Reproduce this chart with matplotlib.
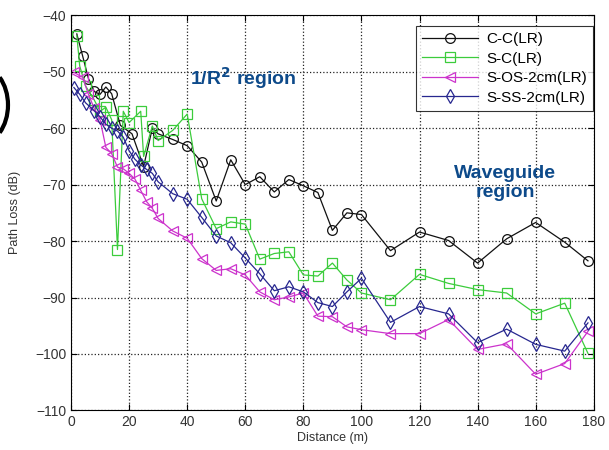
import matplotlib
matplotlib.use("Agg")
import matplotlib.pyplot as plt
from matplotlib.patches import Arc

plt.rcParams['font.family'] = ['Liberation Sans', 'DejaVu Sans']

# C-C(LR)
cc_x = [2, 4, 6, 8, 10, 12, 14, 17, 21, 25, 28, 30, 35, 40, 45, 50, 55, 60, 65, 70,
        75, 80, 85, 90, 95, 100, 110, 120, 130, 140, 150, 160, 170, 178]
cc_y = [-43.3, -47.2, -51.2, -53.5, -54.0, -52.7, -53.9, -59.5, -61.0, -66.8, -60.0,
        -61.0, -62.0, -63.1, -66.0, -72.9, -65.6, -70.0, -68.6, -71.3, -69.1, -70.2,
        -71.4, -78.1, -75.0, -75.3, -81.7, -78.4, -79.9, -83.9, -79.6, -76.7, -80.2, -83.5]

# S-C(LR)
sc_x = [2, 3, 5, 8, 10, 12, 14, 16, 18, 20, 24, 25, 28, 30, 35, 40, 45, 50, 55, 60,
        65, 70, 75, 80, 85, 90, 95, 100, 110, 120, 130, 140, 150, 160, 170, 178]
sc_y = [-43.6, -49.0, -52.5, -55.0, -57.0, -56.3, -58.5, -81.5, -57.0, -59.0, -57.0,
        -65.0, -59.6, -62.2, -60.4, -57.5, -72.5, -77.8, -76.6, -77.0, -83.2, -82.2,
        -81.9, -86.0, -86.2, -83.9, -86.9, -89.2, -90.4, -85.9, -87.5, -88.6, -89.2,
        -92.9, -91.0, -99.9]

# S-OS-2cm(LR)
sos_x = [1, 4, 6, 8, 10, 12, 14, 16, 18, 20, 22, 24, 26, 28, 30, 35, 40, 45, 50, 55,
         60, 65, 70, 75, 80, 85, 90, 95, 100, 110, 120, 130, 140, 150, 160, 170, 178]
sos_y = [-50.1, -51.0, -54.0, -56.5, -58.5, -63.4, -64.5, -66.9, -67.2, -68.0, -69.0,
         -71.0, -73.0, -74.2, -76.0, -78.2, -79.5, -83.1, -85.2, -84.9, -86.0, -89.0,
         -90.4, -89.9, -89.2, -93.3, -93.4, -95.2, -95.7, -96.4, -96.4, -93.9, -99.2,
         -98.2, -103.6, -101.7, -96.0]

# S-SS-2cm(LR)
sss_x = [1, 3, 5, 8, 10, 12, 14, 16, 18, 20, 22, 24, 26, 28, 30, 35, 40, 45, 50, 55,
         60, 65, 70, 75, 80, 85, 90, 95, 100, 110, 120, 130, 140, 150, 160, 170, 178]
sss_y = [-52.8, -54.0, -55.5, -56.9, -58.0, -59.3, -60.0, -60.5, -61.6, -64.0, -65.5,
         -66.5, -67.3, -68.0, -69.5, -71.6, -72.6, -75.8, -79.1, -80.3, -83.0, -85.8,
         -88.8, -88.1, -89.0, -90.9, -91.6, -89.0, -86.6, -94.4, -91.6, -92.9, -98.0,
         -95.6, -98.3, -99.5, -94.5]

x_ticks = [0, 20, 40, 60, 80, 100, 120, 140, 160, 180]
y_ticks = [-110, -100, -90, -80, -70, -60, -50, -40]

fig = plt.figure(figsize=(6.09, 4.5), dpi=100)
ax = fig.add_axes([0.1166, 0.088, 0.8584, 0.878])

kw = dict(markerfacecolor='none', markersize=7, linewidth=0.9, markeredgewidth=0.9)
ax.plot(cc_x, cc_y, '-o', color='#111111', label='C-C(LR)', **kw)
ax.plot(sc_x, sc_y, '-s', color='#3ccc3c', label='S-C(LR)', **kw)
ax.plot(sos_x, sos_y, '-<', color='#cc33cc', label='S-OS-2cm(LR)', **kw)
ax.plot(sss_x, sss_y, '-d', color='#27278f', label='S-SS-2cm(LR)', **kw)

ax.set_xlim(0, 180)
ax.set_ylim(-110, -40)
ax.set_xticks(x_ticks)
ax.set_yticks(y_ticks)
ax.tick_params(direction='in', labelsize=10, labelcolor='#333333', length=4,
               top=True, right=True)
ax.grid(True, linestyle=':', color='#222222', linewidth=0.9)
ax.set_xlabel('Distance (m)', fontsize=9, color='#333333', labelpad=2)
ax.set_ylabel('Path Loss (dB)', fontsize=9, color='#333333', labelpad=10)

leg = ax.legend(loc='upper right', bbox_to_anchor=(0.998, 0.972), fontsize=11,
                frameon=True, fancybox=False, edgecolor='black', borderaxespad=0,
                handlelength=3.7, labelspacing=0.35, borderpad=0.4,
                handletextpad=0.5)
leg.get_frame().set_linewidth(0.8)

ax.text(0.33, 0.84, '1/R$^\\mathbf{2}$ region', transform=ax.transAxes,
        fontsize=14, fontweight='bold', color='#0d4a8a', ha='center', va='center')
ax.text(0.83, 0.575, 'Waveguide\nregion', transform=ax.transAxes, fontsize=14,
        fontweight='bold', color='#0d4a8a', ha='center', va='center',
        linespacing=1.15)

# cropped oval edge on the left margin
fig.patches.append(Arc((-22 / 609, 1 - 105 / 450), 60 / 609, 80 / 450,
                       theta1=-60, theta2=60, transform=fig.transFigure,
                       color='black', linewidth=3))

fig.savefig('out.png', dpi=100)
